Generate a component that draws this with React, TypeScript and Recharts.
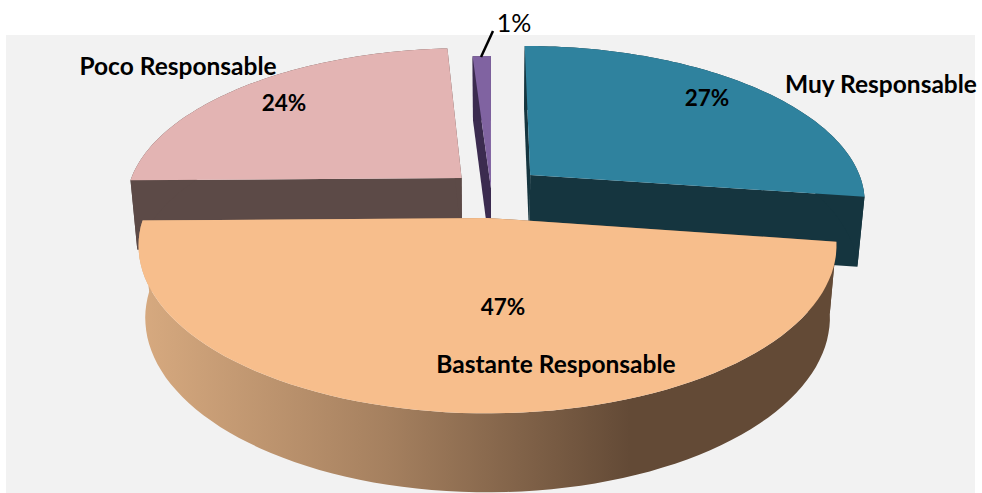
import { Pie, PieChart } from 'recharts'

const sliceNames = ['Poco Responsable', '', 'Muy Responsable', 'Bastante Responsable']
const sliceValues = [24, 1, 27, 47]
const percentLabels = ['24%', '1%', '27%', '47%']

const chartData = sliceNames.map((name, i) => ({ name, value: sliceValues[i] }))

// per-slice look: explode offset on the disc (u, v) plus face colours
const sliceStyles = [
  { u: -0.086, v: 0.07, top: '#e3b4b3', side: '#5c4a47' },
  { u: 0.003, v: 0, top: '#8063a1', side: '#3b2b4f' },
  { u: 0.122, v: 0.09, top: '#2f829e', side: '#15353f' },
  { u: -0.007, v: -0.185, top: '#f7be8c', side: 'url(#rimShade)' },
]

// text placement for the name and percent of each slice
const labelStyles = [
  { nameX: 178, nameY: 65, pctX: 284, pctY: 102 },
  { nameX: 0, nameY: 0, pctX: 514, pctY: 22 },
  { nameX: 881, nameY: 83, pctX: 707, pctY: 97 },
  { nameX: 556, nameY: 363, pctX: 503, pctY: 306 },
]

const PERSPECTIVE = 0.16
const WIDTH_RATIO = 2.173
const RAD = Math.PI / 180

type Pt = [number, number]

// disc coordinates to screen, far side shrinks
function project(cx: number, cy: number, r: number, u: number, v: number): Pt {
  const k = 1 / (1 + PERSPECTIVE * v)
  return [cx + u * r * WIDTH_RATIO * k, cy - v * r * k]
}

// the same point on the underside of the slab
function drop([x, y]: Pt, cx: number): Pt {
  return [x + (cx - x) * 0.019, y * 1.041 + 62]
}

const toPath = (pts: Pt[]) =>
  'M' + pts.map((p) => `${p[0].toFixed(1)},${p[1].toFixed(1)}`).join('L') + 'Z'

function Slab(props: any) {
  const { cx, cy, outerRadius, startAngle, endAngle, index } = props
  const style = sliceStyles[index]
  const steps = 80
  const rim: Pt[] = []
  for (let i = 0; i <= steps; i++) {
    const a = (startAngle + ((endAngle - startAngle) * i) / steps) * RAD
    rim.push(project(cx, cy, outerRadius, style.u + Math.cos(a), style.v + Math.sin(a)))
  }
  const apex = project(cx, cy, outerRadius, style.u, style.v)
  const rimLow = rim.map((p) => drop(p, cx))
  const apexLow = drop(apex, cx)
  const first = rim[0]
  const last = rim[steps]

  return (
    <g>
      <path d={toPath([apex, first, rimLow[0], apexLow])} fill={style.side} />
      <path d={toPath([apex, last, rimLow[steps], apexLow])} fill={style.side} />
      <path d={toPath([...rim, ...[...rimLow].reverse()])} fill={style.side} />
      <path d={toPath([apex, ...rim])} fill={style.top} />
    </g>
  )
}

function SliceLabel(props: any) {
  const { index } = props
  const place = labelStyles[index]
  const name = sliceNames[index]
  const fontFamily = 'Lato'
  return (
    <g fill="#000">
      {name && (
        <text
          x={place.nameX}
          y={place.nameY}
          textAnchor="middle"
          dominantBaseline="central"
          fontFamily={fontFamily}
          fontSize={24.5}
          fontWeight={700}
          fill="#000"
        >
          {name}
        </text>
      )}
      <text
        x={place.pctX}
        y={place.pctY}
        textAnchor="middle"
        dominantBaseline="central"
        fontFamily={fontFamily}
        fontSize={name ? 22.5 : 25}
        fontWeight={name ? 700 : 400}
        fill="#000"
      >
        {percentLabels[index]}
      </text>
      {!name && <line x1={481} y1={57} x2={493} y2={31} stroke="#000" strokeWidth={2.5} />}
    </g>
  )
}

export default function App() {
  return (
    <div style={{ position: 'absolute', left: 0, top: 0, width: 982, height: 493, background: '#fff' }}>
      <div style={{ position: 'absolute', left: 6, top: 35, width: 969, height: 458, background: '#f2f2f2' }} />
      <div style={{ position: 'absolute', left: 0, top: 0 }}>
        <PieChart width={982} height={493} margin={{ top: 0, right: 0, bottom: 0, left: 0 }}>
          <defs>
            <linearGradient id="rimShade" gradientUnits="userSpaceOnUse" x1={145} y1={0} x2={630} y2={0}>
              <stop offset="0" stopColor="#d6a97f" />
              <stop offset="0.5" stopColor="#a5805f" />
              <stop offset="1" stopColor="#634a36" />
            </linearGradient>
          </defs>
          <Pie
            data={chartData}
            dataKey="value"
            nameKey="name"
            cx={490}
            cy={188.6}
            innerRadius={0}
            outerRadius={153.7}
            startAngle={180.9}
            endAngle={-179.1}
            stroke="none"
            shape={Slab}
            label={SliceLabel}
            labelLine={false}
            isAnimationActive={false}
          />
        </PieChart>
      </div>
    </div>
  )
}
